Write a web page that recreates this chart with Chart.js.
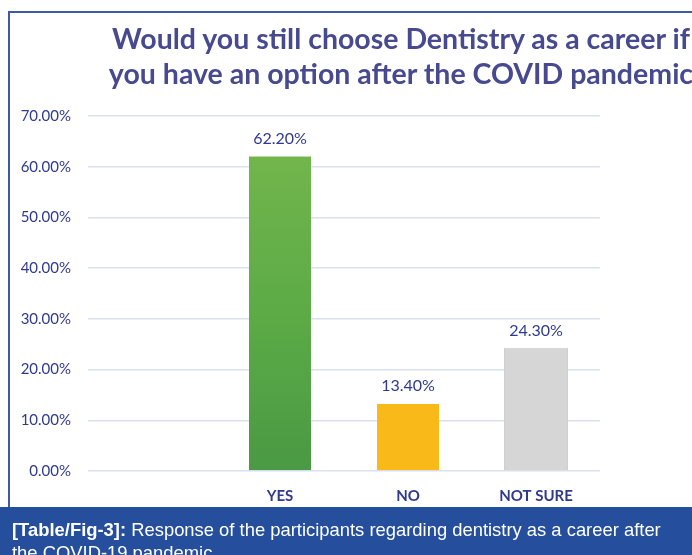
<!DOCTYPE html>
<html>
<head>
<meta charset="utf-8">
<script src="https://cdn.jsdelivr.net/npm/chart.js@4"></script>
<style>
  html, body { margin: 0; padding: 0; background: #fff; overflow: hidden; }
  body { width: 692px; height: 555px; position: relative; }
  #chartBox { position: absolute; left: 0; top: 0; width: 692px; height: 507px; }
  #frame {
    position: absolute; left: 8px; top: 11px; width: 720px; height: 496px;
    border-left: 2px solid #3c5aa6; border-top: 2px solid #3c5aa6;
    pointer-events: none;
  }
  #title {
    position: absolute; left: 1px; top: 21px; width: 800px;
    text-align: center; white-space: nowrap;
    font: bold 28.5px Lato, 'Open Sans', sans-serif; line-height: 35px;
    color: #474a8e;
  }
  #caption {
    position: absolute; left: 0; top: 507px; width: 692px; height: 48px;
    background: #254f9c; color: #fff; box-sizing: border-box;
    padding: 11px 0 0 12px;
    font: 18.4px 'Liberation Sans', Arial, sans-serif; line-height: 23px;
    white-space: nowrap; overflow: hidden;
  }
</style>
</head>
<body>
<div id="chartBox"><canvas id="careerChart" width="692" height="507"></canvas></div>
<div id="frame"></div>
<div id="title">Would you still choose Dentistry as a career if<br>you have an option after the COVID pandemic</div>
<div id="caption"><b>[Table/Fig-3]:</b> Response of the participants regarding dentistry as a career after<br>the COVID-19 pandemic.</div>
<script>
const categories = ['', 'YES', 'NO', 'NOT SURE'];
const responses = [null, 62.2, 13.4, 24.3];
const barColors = [null, 'green', '#f9b918', '#d6d6d6'];
const yTicks = [0, 10, 20, 30, 40, 50, 60, 70];

const navy = '#2f3a8f';

// value labels above each bar
const valueLabels = {
  id: 'valueLabels',
  afterDatasetsDraw(chart) {
    const ctx = chart.ctx;
    const meta = chart.getDatasetMeta(0);
    ctx.save();
    ctx.font = '16px Lato, sans-serif';
    ctx.fillStyle = navy;
    ctx.textAlign = 'center';
    ctx.textBaseline = 'middle';
    meta.data.forEach((bar, i) => {
      if (responses[i] == null) return;
      ctx.fillText(responses[i].toFixed(2) + '%', bar.x, bar.y - 17);
    });
    ctx.restore();
  },
};

const ctx = document.getElementById('careerChart').getContext('2d');

new Chart(ctx, {
  type: 'bar',
  data: {
    labels: categories,
    datasets: [
      {
        data: responses,
        backgroundColor: (context) => {
          const c = barColors[context.dataIndex];
          if (c !== 'green') return c;
          const chart = context.chart;
          if (!chart.chartArea) return '#5aa846';
          const yScale = chart.scales.y;
          const top = yScale.getPixelForValue(responses[context.dataIndex]);
          const bottom = yScale.getPixelForValue(0);
          const g = chart.ctx.createLinearGradient(0, top, 0, bottom);
          g.addColorStop(0, '#72b54c');
          g.addColorStop(0.5, '#5cab46');
          g.addColorStop(1, '#4a9944');
          return g;
        },
        borderColor: (context) =>
          context.dataIndex === 3 ? '#cfcfcf' : 'rgba(0,0,0,0)',
        borderWidth: 1,
        categoryPercentage: 1,
        barPercentage: 0.5,
      },
    ],
  },
  options: {
    responsive: false,
    maintainAspectRatio: false,
    animation: false,
    layout: {
      padding: { top: 116, right: 92, bottom: 0, left: 0 },
    },
    plugins: {
      legend: { display: false },
      tooltip: { enabled: false },
      title: { display: false },
    },
    scales: {
      x: {
        grid: { display: false },
        border: { display: false },
        ticks: {
          color: navy,
          padding: 8,
          font: { family: 'Lato', size: 15, weight: 'bold' },
        },
        afterFit: (scale) => {
          scale.height = 36;
        },
      },
      y: {
        min: 0,
        max: 70,
        afterBuildTicks: (scale) => {
          scale.ticks = yTicks.map((v) => ({ value: v }));
        },
        grid: {
          color: '#d9e1ee',
          lineWidth: 1.5,
          drawTicks: false,
        },
        border: { display: false },
        ticks: {
          color: navy,
          padding: 17,
          font: { family: 'Lato', size: 15 },
          callback: (v) => v.toFixed(2) + '%',
        },
        afterFit: (scale) => {
          scale.width = 88;
        },
      },
    },
  },
  plugins: [valueLabels],
});
</script>
</body>
</html>
